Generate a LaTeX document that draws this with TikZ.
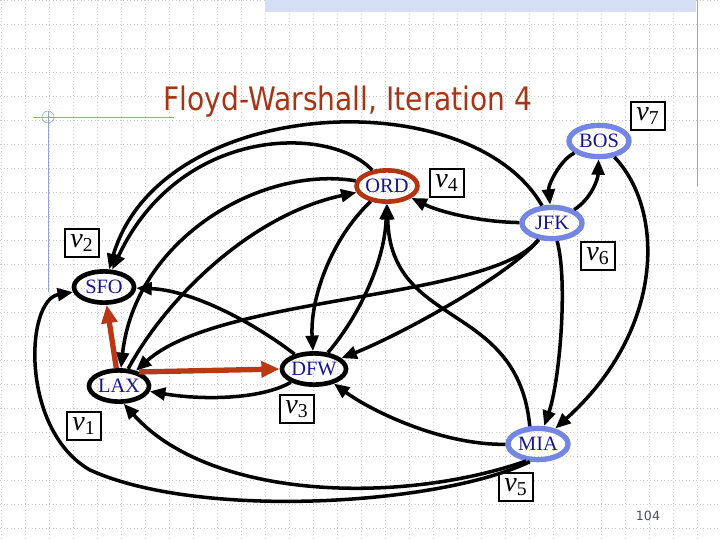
\documentclass[tikz,border=0pt]{standalone}
\usepackage{fontspec}
\setmainfont{Liberation Serif}
\newfontfamily\titlefont[FakeStretch=0.87]{DejaVu Sans}
\newfontfamily\numfont{DejaVu Sans}
\usetikzlibrary{arrows.meta,shapes.geometric}
\definecolor{titlered}{RGB}{168,52,22}
\definecolor{ordred}{RGB}{180,52,16}
\definecolor{edgered}{RGB}{186,56,20}
\definecolor{airblue}{RGB}{116,134,228}
\definecolor{codeblue}{RGB}{22,22,140}
\definecolor{slideline}{RGB}{150,165,205}
\definecolor{gridgray}{RGB}{205,205,205}
\definecolor{bandblue}{RGB}{212,222,244}
\definecolor{pagegray}{RGB}{80,80,100}

\begin{document}
\begin{tikzpicture}[x=0.025cm, y=-0.025cm,
		airport/.style={ellipse, draw, line width=3.3pt, minimum width=1.5cm, minimum height=0.78cm, inner sep=0pt, text=codeblue, font=\fontsize{14.5}{15}\selectfont},
		hub/.style={airport, draw=ordred},
		visited/.style={airport, draw=airblue, line width=3.8pt},
		vlabel/.style={draw, fill=white, line width=1.5pt, minimum width=24pt, minimum height=20pt, inner sep=1pt, font=\fontsize{20}{20}\selectfont},
		flight/.style={line width=2.5pt, -{Triangle[length=11pt,width=9pt]}},
		newpath/.style={line width=3.8pt, edgered, -{Triangle[length=13pt,width=11pt]}},
		gridline/.style={gridgray, dotted, line width=0.5pt}]
		\useasboundingbox (0,0) rectangle (720,540);
		\fill[white] (0,0) rectangle (720,540);
		\foreach \gx in {1,25,...,697} \draw[gridline] (\gx,0) -- (\gx,540);
		\foreach \gy in {0,24,...,528} \draw[gridline] (0,\gy) -- (720,\gy);
		
		\fill[bandblue] (265,0) rectangle (696,12);
		\draw[slideline] (697,0) -- (697,186);
		\draw[slideline] (33,117) -- (174,117);
		\draw[slideline] (48,111) -- (48,292);
		\draw[slideline] (48,117) circle[radius=6];
		
		\node[font=\titlefont\fontsize{23}{23}\selectfont, text=titlered, anchor=base] (title) at (348,110) {Floyd-Warshall, Iteration 4};
		\node[font=\numfont\fontsize{9}{9}\selectfont, text=pagegray] (page) at (648,516) {104};
		
		\node[visited] (BOS) at (599,141) {BOS};
		\node[hub] (ORD) at (387,186) {ORD};
		\node[visited] (JFK) at (552,223) {JFK};
		\node[airport] (SFO) at (104,287) {SFO};
		\node[airport] (LAX) at (119,386) {LAX};
		\node[airport] (DFW) at (314,369) {DFW};
		\node[visited] (MIA) at (538,444) {MIA};
		
		\node[vlabel] (v7) at (648,116) {\textit{v}\textsubscript{7}};
		\node[vlabel] (v4) at (447,183) {\textit{v}\textsubscript{4}};
		\node[vlabel] (v6) at (598,256) {\textit{v}\textsubscript{6}};
		\node[vlabel] (v2) at (82,243) {\textit{v}\textsubscript{2}};
		\node[vlabel] (v1) at (84,426) {\textit{v}\textsubscript{1}};
		\node[vlabel] (v3) at (297,409) {\textit{v}\textsubscript{3}};
		\node[vlabel] (v5) at (516,487) {\textit{v}\textsubscript{5}};
		
		\draw[flight] (BOS) .. controls (560,160) and (548,185) .. (JFK);
		\draw[flight] (JFK) .. controls (590,200) and (598,180) .. (BOS);
		\draw[flight] (BOS) .. controls (665,210) and (665,330) .. (MIA);
		\draw[flight] (JFK) .. controls (568,280) and (560,380) .. (MIA);
		\draw[flight] (JFK) .. controls (480,222) and (440,212) .. (ORD);
		\draw[flight] (JFK) .. controls (510,275) and (400,335) .. (DFW);
		\draw[flight] (JFK) .. controls (490,300) and (220,295) .. (LAX);
		\draw[flight] (JFK) .. controls (470,80) and (160,95) .. (SFO);
		\draw[flight] (ORD) .. controls (330,125) and (180,125) .. (SFO);
		\draw[flight] (ORD) .. controls (260,165) and (135,240) .. (LAX);
		\draw[flight] (LAX) .. controls (165,300) and (250,215) .. (ORD);
		\draw[flight] (ORD) .. controls (330,240) and (310,300) .. (DFW);
		\draw[flight] (DFW) .. controls (360,315) and (385,260) .. (ORD);
		\draw[flight] (MIA.115) .. controls (518,300) and (390,330) .. (ORD);
		\draw[flight] (DFW) .. controls (250,320) and (190,290) .. (SFO);
		\draw[flight] (DFW) .. controls (260,400) and (200,400) .. (LAX);
		\draw[flight] (MIA) .. controls (440,445) and (370,410) .. (DFW);
		\draw[flight] (MIA.235) .. controls (400,505) and (210,500) .. (LAX.-75);
		\draw[flight] (MIA.245) .. controls (440,505) and (200,520) .. (90,470) .. controls (20,430) and (25,300) .. (SFO);
		\draw[newpath] (LAX) -- (SFO);
		\draw[newpath] (LAX.35) -- (DFW.west);
	\end{tikzpicture}
\end{document}
